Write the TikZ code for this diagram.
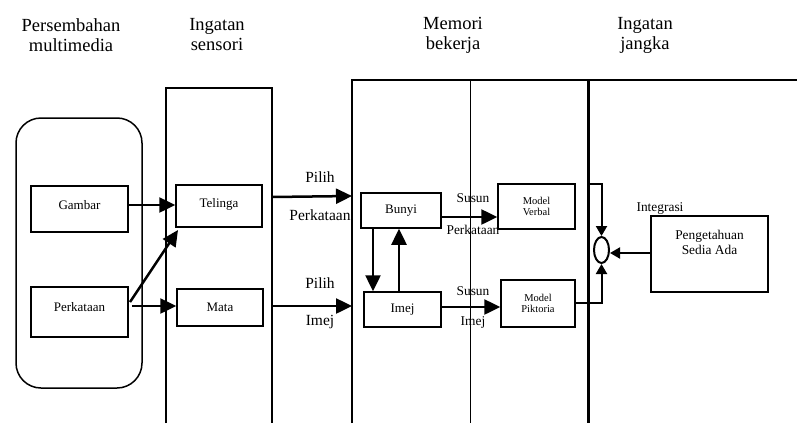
\documentclass[tikz,border=0pt]{standalone}
\usepackage{fontspec}
\setmainfont{Liberation Serif}
\usetikzlibrary{arrows.meta,shapes.geometric}
\tikzset{
  box/.style={draw,line width=1.5pt,inner sep=0pt,font=\fontsize{13}{15}\selectfont},
  col/.style={line width=2pt},
  arr/.style={line width=2.5pt,-{Triangle[length=16pt,width=15pt]}},
  sarr/.style={line width=2pt,-{Triangle[length=10pt,width=11pt]}},
  title/.style={align=center,font=\fontsize{18.5}{20}\selectfont},
  lab/.style={font=\fontsize{15.5}{17}\selectfont,inner sep=0pt},
  slab/.style={font=\fontsize{13.4}{15}\selectfont,inner sep=0pt},
}
\begin{document}
\begin{tikzpicture}[x=1pt,y=-1pt]
\useasboundingbox (0,0) rectangle (797,423);
% titles
\node[title] (t1) at (71,35) {Persembahan\\multimedia};
\node[title] (t2) at (217,35) {Ingatan\\sensori};
\node[title] (t3) at (453,35) {Memori\\bekerja};
\node[title] (t4) at (645,35) {Ingatan\\jangka};
% columns
\draw[col] (166,423) -- (166,88) -- (272,88) -- (272,423);
\draw[col] (352,423) -- (352,80) -- (797,80);
\draw[line width=1pt] (470,80) -- (470,423);
\draw[line width=3pt] (588.5,80) -- (588.5,423);
% presentation
\node[draw,line width=1.5pt,rounded corners=25pt,minimum width=126pt,minimum height=270pt] (pres) at (79,253) {};
\node[box,minimum width=97pt,minimum height=46pt,text depth=8pt] (gambar) at (79.5,209) {Gambar};
\node[box,minimum width=97pt,minimum height=50pt,text depth=10pt] (perk) at (79.5,312) {Perkataan};
% sensory
\node[box,minimum width=86pt,minimum height=42pt,text depth=6pt] (telinga) at (219,206) {Telinga};
\node[box,minimum width=86pt,minimum height=37pt] (mata) at (220,307.5) {Mata};
% working memory
\node[box,minimum width=80pt,minimum height=35pt] (bunyi) at (401,210.5) {Bunyi};
\node[box,minimum width=77pt,minimum height=35pt] (imej) at (402.5,309.5) {Imej};
\node[box,minimum width=77pt,minimum height=45pt,align=center,font=\fontsize{10.5}{11.5}\selectfont] (verbal) at (536.5,206.5) {Model\\Verbal};
\node[box,minimum width=74pt,minimum height=47pt,align=center,font=\fontsize{10.5}{11.5}\selectfont] (pikt) at (538,303.5) {Model\\Piktoria};
% long-term
\node[box,minimum width=117pt,minimum height=76pt] (peng) at (709.5,254) {};
\node[align=center,inner sep=0pt,font=\fontsize{13.4}{15}\selectfont] (pengtxt) at (709.5,242) {Pengetahuan\\Sedia Ada};
\node[draw,ellipse,line width=2pt,minimum width=15pt,minimum height=26pt,inner sep=0pt] (integ) at (601.5,250) {};
% coordinates
\coordinate (s1a) at (272,197);
\coordinate (s1b) at (352,196);
\coordinate (s2a) at (272,306);
\coordinate (s2b) at (352,306);
\coordinate (topb) at (588,184);
% arrows
\draw[arr] (gambar.east |- 0,205) -- (telinga.west |- 0,205);
\draw[arr] (130,302) -- (178,230);
\draw[arr] (132,306) -- (mata.west |- 0,306);
\draw[arr] (s1a) -- (s1b);
\draw[arr] (s2a) -- (s2b);
\draw[arr] (bunyi.south -| 373,0) -- (imej.north -| 373,0);
\draw[arr] (imej.north -| 399,0) -- (bunyi.south -| 399,0);
\draw[arr] (bunyi.east |- 0,217) -- (verbal.west |- 0,217);
\draw[arr] (imej.east |- 0,307) -- (pikt.west |- 0,307);
\draw[sarr] (topb) -| (integ.north);
\draw[sarr] (pikt.east |- 0,303) -| (integ.south);
\draw[sarr] (peng.west |- 0,253) -- (integ.east |- 0,253);
% labels
\node[lab] (l1) at (320,177) {Pilih};
\node[lab] (l2) at (320,215) {Perkataan};
\node[lab] (l3) at (320,283) {Pilih};
\node[lab] (l4) at (320,322) {Imej};
\node[slab] (l5) at (473,198) {Susun};
\node[slab] (l6) at (473,230) {Perkataan};
\node[slab] (l7) at (473,291) {Susun};
\node[slab] (l8) at (473,322) {Imej};
\node[slab] (l9) at (660,209) {Integrasi};
\end{tikzpicture}
\end{document}
